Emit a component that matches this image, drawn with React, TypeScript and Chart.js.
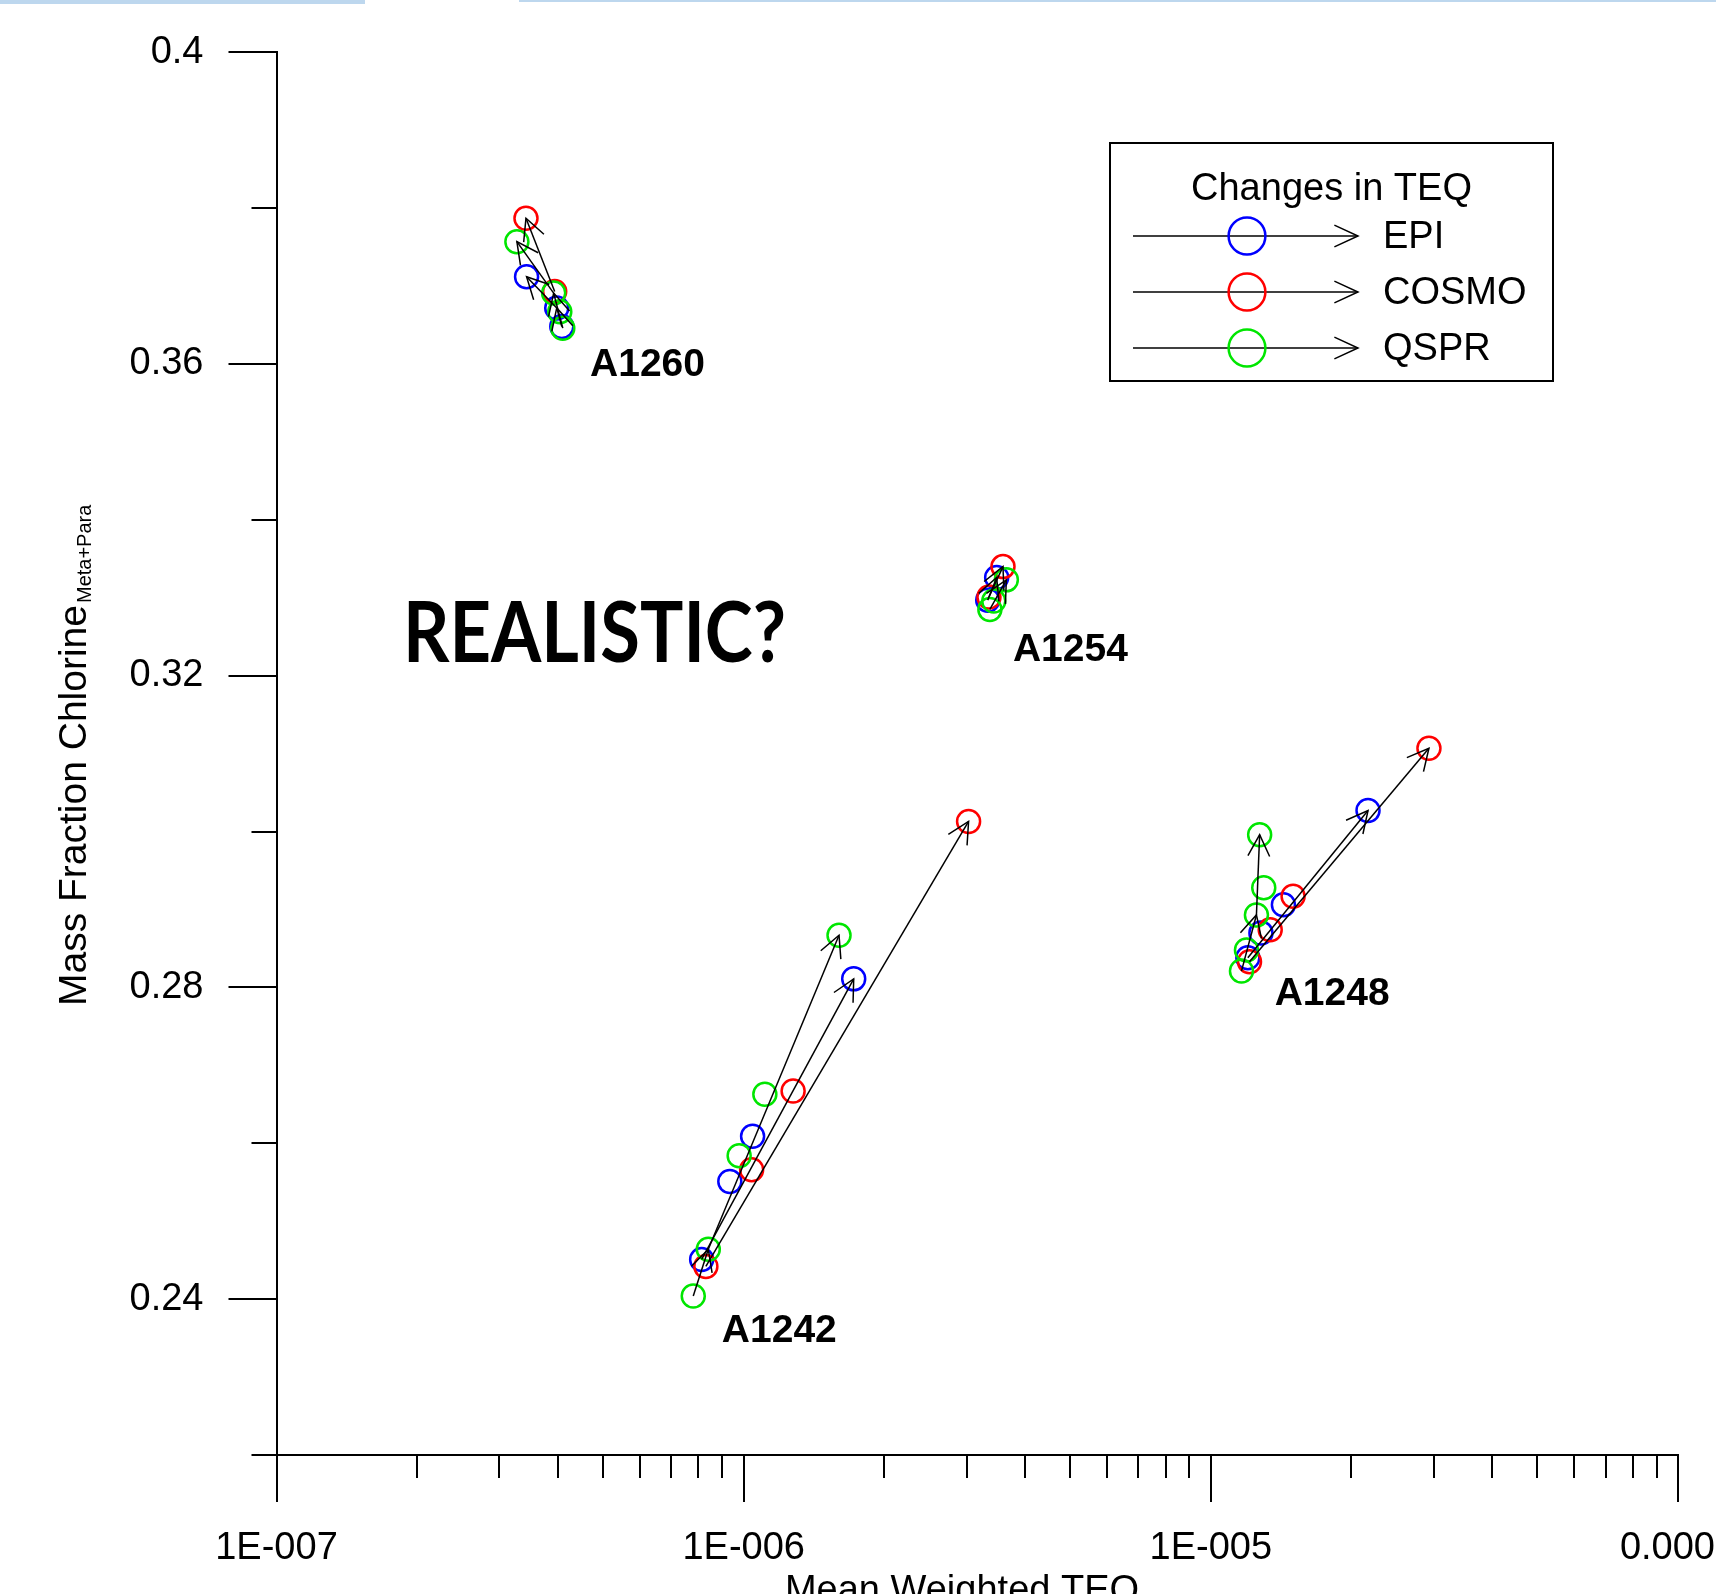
import React, { useEffect, useRef } from 'react';
import { Chart, registerables } from 'chart.js';

Chart.register(...registerables);

const FONT = "'Liberation Sans', Arial, sans-serif";

// ---------- series ----------
const SERIES_NAMES = ['EPI', 'COSMO', 'QSPR'];
const SERIES_COLORS = ['#0000FF', '#FF0000', '#00E600'];

// EPI (blue)
const EPI_X = [4.08e-7, 3.98e-7, 3.43e-7, 3.33e-6, 3.48e-6, 1.2e-5, 1.28e-5, 1.43e-5, 2.17e-5, 8.13e-7, 9.34e-7, 1.045e-6, 1.72e-6];
const EPI_Y = [0.3648, 0.3672, 0.3712, 0.3297, 0.3326, 0.2838, 0.287, 0.2906, 0.3027, 0.2451, 0.2551, 0.2609, 0.2811];
const EPI_ARROWS = [[0, 1], [1, 2], [3, 4], [5, 8], [9, 12]];

// COSMO (red)
const COSMO_X = [3.94e-7, 3.42e-7, 3.35e-6, 3.59e-6, 1.21e-5, 1.34e-5, 1.5e-5, 2.93e-5, 8.3e-7, 1.04e-6, 1.276e-6, 3.03e-6];
const COSMO_Y = [0.3693, 0.3787, 0.3301, 0.334, 0.2833, 0.2874, 0.2917, 0.3107, 0.2442, 0.2566, 0.2667, 0.3013];
const COSMO_ARROWS = [[0, 1], [2, 3], [4, 7], [8, 11]];

// QSPR (green)
const QSPR_X = [4.1e-7, 4.04e-7, 3.92e-7, 3.27e-7, 3.365e-6, 3.43e-6, 3.65e-6, 1.163e-5, 1.192e-5, 1.252e-5, 1.298e-5, 1.272e-5, 7.8e-7, 8.4e-7, 9.78e-7, 1.11e-6, 1.6e-6];
const QSPR_Y = [0.3646, 0.3667, 0.3691, 0.3757, 0.3285, 0.3296, 0.3323, 0.2821, 0.2848, 0.2893, 0.2928, 0.2996, 0.2404, 0.2464, 0.2584, 0.2663, 0.2867];
const QSPR_ARROWS = [[0, 2], [2, 3], [4, 6], [7, 9], [9, 11], [12, 13], [13, 16]];

// ---------- annotations ----------
const GROUP_LABELS = ['A1260', 'A1254', 'A1248', 'A1242'];
const GROUP_LABEL_X = [4.69e-7, 3.77e-6, 1.37e-5, 8.98e-7];
const GROUP_LABEL_Y = [0.3602, 0.3237, 0.2796, 0.2363];
const NOTE_TEXT = 'REALISTIC?';
const NOTE_X = 1.865e-7;
const NOTE_Y = 0.3256;

// ---------- axes ----------
const X_MIN = 1e-7;
const X_MAX = 1e-4;
const Y_MIN = 0.22;
const Y_MAX = 0.4;
const X_MAJOR_TICKS = [1e-7, 1e-6, 1e-5, 1e-4];
const X_MAJOR_LABELS = ['1E-007', '1E-006', '1E-005', '0.0001'];
const X_MINOR_TICKS = [
  2e-7, 3e-7, 4e-7, 5e-7, 6e-7, 7e-7, 8e-7, 9e-7,
  2e-6, 3e-6, 4e-6, 5e-6, 6e-6, 7e-6, 8e-6, 9e-6,
  2e-5, 3e-5, 4e-5, 5e-5, 6e-5, 7e-5, 8e-5, 9e-5,
];
const Y_MAJOR_TICKS = [0.24, 0.28, 0.32, 0.36, 0.4];
const Y_MAJOR_LABELS = ['0.24', '0.28', '0.32', '0.36', '0.4'];
const Y_MINOR_TICKS = [0.22, 0.26, 0.3, 0.34, 0.38];

const X_TITLE = 'Mean Weighted TEQ';
const Y_TITLE = 'Mass Fraction Chlorine';
const Y_TITLE_SUB = 'Meta+Para';
const LEGEND_TITLE = 'Changes in TEQ';

const SERIES = [
  { xs: EPI_X, ys: EPI_Y, arrows: EPI_ARROWS },
  { xs: COSMO_X, ys: COSMO_Y, arrows: COSMO_ARROWS },
  { xs: QSPR_X, ys: QSPR_Y, arrows: QSPR_ARROWS },
];

function drawArrow(ctx: CanvasRenderingContext2D, x1: number, y1: number, x2: number, y2: number, len: number, ang: number) {
  ctx.beginPath();
  ctx.moveTo(x1, y1);
  ctx.lineTo(x2, y2);
  ctx.stroke();
  const a = Math.atan2(y2 - y1, x2 - x1);
  ctx.beginPath();
  ctx.moveTo(x2 - len * Math.cos(a - ang), y2 - len * Math.sin(a - ang));
  ctx.lineTo(x2, y2);
  ctx.lineTo(x2 - len * Math.cos(a + ang), y2 - len * Math.sin(a + ang));
  ctx.stroke();
}

const arrowsPlugin = {
  id: 'arrows',
  afterDatasetsDraw(chart: any) {
    const { ctx, scales } = chart;
    ctx.save();
    ctx.strokeStyle = '#000';
    ctx.lineWidth = 1.5;
    SERIES.forEach((s) => {
      s.arrows.forEach(([a, b]) => {
        const x1 = scales.x.getPixelForValue(s.xs[a]);
        const y1 = scales.y.getPixelForValue(s.ys[a]);
        const x2 = scales.x.getPixelForValue(s.xs[b]);
        const y2 = scales.y.getPixelForValue(s.ys[b]);
        drawArrow(ctx, x1, y1, x2, y2, 24, 0.47);
      });
    });
    ctx.restore();
  },
};

const extrasPlugin = {
  id: 'extras',
  afterDraw(chart: any) {
    const { ctx, chartArea, scales } = chart;
    const xs = scales.x;
    const ys = scales.y;
    ctx.save();
    // tick marks
    ctx.strokeStyle = '#000';
    ctx.lineWidth = 2;
    ctx.beginPath();
    X_MAJOR_TICKS.forEach((v) => {
      const p = Math.round(xs.getPixelForValue(v));
      ctx.moveTo(p, chartArea.bottom);
      ctx.lineTo(p, chartArea.bottom + 47);
    });
    X_MINOR_TICKS.forEach((v) => {
      const p = Math.round(xs.getPixelForValue(v));
      ctx.moveTo(p, chartArea.bottom);
      ctx.lineTo(p, chartArea.bottom + 23);
    });
    Y_MAJOR_TICKS.forEach((v) => {
      const p = Math.round(ys.getPixelForValue(v));
      ctx.moveTo(chartArea.left - 48, p);
      ctx.lineTo(chartArea.left, p);
    });
    Y_MINOR_TICKS.forEach((v) => {
      const p = Math.round(ys.getPixelForValue(v));
      ctx.moveTo(chartArea.left - 25, p);
      ctx.lineTo(chartArea.left, p);
    });
    ctx.stroke();

    // x title
    ctx.fillStyle = '#000';
    ctx.font = `38px ${FONT}`;
    ctx.textAlign = 'center';
    ctx.textBaseline = 'alphabetic';
    ctx.fillText(X_TITLE, 962, 1602);

    // y title with subscript
    ctx.save();
    ctx.translate(86, 1006);
    ctx.rotate(-Math.PI / 2);
    ctx.textAlign = 'left';
    ctx.font = `39px ${FONT}`;
    ctx.fillText(Y_TITLE, 0, 0);
    const w = ctx.measureText(Y_TITLE).width;
    ctx.font = `20px ${FONT}`;
    ctx.fillText(Y_TITLE_SUB, w + 2, 5);
    ctx.restore();

    // group labels
    ctx.font = `bold 39px ${FONT}`;
    ctx.textAlign = 'left';
    ctx.textBaseline = 'alphabetic';
    GROUP_LABELS.forEach((t, i) => {
      const px = xs.getPixelForValue(GROUP_LABEL_X[i]);
      const py = ys.getPixelForValue(GROUP_LABEL_Y[i]);
      ctx.fillText(t, px, py + 14);
    });

    // note
    ctx.save();
    ctx.font = `bold 84px Lato, 'Open Sans', ${FONT}`;
    const nw = ctx.measureText(NOTE_TEXT).width;
    const nx = xs.getPixelForValue(NOTE_X);
    const ny = ys.getPixelForValue(NOTE_Y);
    ctx.translate(nx, ny + 30);
    ctx.scale(383 / nw, 1);
    ctx.fillText(NOTE_TEXT, 0, 0);
    ctx.restore();

    // legend
    ctx.lineWidth = 2;
    ctx.strokeStyle = '#000';
    ctx.strokeRect(1110, 143, 443, 238);
    ctx.font = `38px ${FONT}`;
    ctx.textAlign = 'center';
    ctx.fillText(LEGEND_TITLE, 1331.5, 200);
    ctx.textAlign = 'left';
    SERIES_NAMES.forEach((name, i) => {
      const ry = 236 + i * 56;
      ctx.strokeStyle = '#000';
      ctx.lineWidth = 1.5;
      drawArrow(ctx, 1133, ry, 1358, ry, 26, 0.43);
      ctx.strokeStyle = SERIES_COLORS[i];
      ctx.lineWidth = 2.5;
      ctx.beginPath();
      ctx.arc(1247, ry, 18.4, 0, Math.PI * 2);
      ctx.stroke();
      ctx.fillStyle = '#000';
      ctx.fillText(name, 1383, ry + 12);
    });
    ctx.restore();
  },
};

export default function App() {
  const ref = useRef<HTMLCanvasElement>(null);
  useEffect(() => {
    const canvas = ref.current;
    if (!canvas) return;
    const datasets = SERIES.map((s, i) => ({
      label: SERIES_NAMES[i],
      data: s.xs.map((x, k) => ({ x, y: s.ys[k] })),
      borderColor: SERIES_COLORS[i],
      backgroundColor: 'rgba(0,0,0,0)',
      pointRadius: 11.5,
      pointBorderWidth: 2.5,
      pointHoverRadius: 11.5,
      showLine: false,
      order: 3 - i,
    }));
    const chart = new Chart(canvas, {
      type: 'scatter',
      data: { datasets },
      options: {
        responsive: false,
        animation: false,
        devicePixelRatio: 1,
        events: [],
        layout: { padding: { top: 52.3, right: 38, bottom: 0, left: 0 } },
        plugins: { legend: { display: false }, tooltip: { enabled: false } },
        scales: {
          x: {
            type: 'logarithmic',
            position: 'bottom',
            min: X_MIN,
            max: X_MAX,
            afterBuildTicks: (s: any) => {
              s.ticks = [...X_MAJOR_TICKS, ...X_MINOR_TICKS].sort((a, b) => a - b).map((v) => ({ value: v }));
            },
            ticks: {
              autoSkip: false,
              maxRotation: 0,
              minRotation: 0,
              padding: 24,
              color: '#000',
              font: { family: FONT, size: 38 },
              callback: (value: any) => {
                const v = Number(value);
                const k = X_MAJOR_TICKS.findIndex((m) => Math.abs(m - v) / m < 1e-6);
                return k >= 0 ? X_MAJOR_LABELS[k] : '';
              },
            },
            grid: { display: false, drawTicks: true, tickLength: 47 },
            border: { display: true, color: '#000', width: 2 },
            afterFit: (s: any) => {
              s.height = 139;
              s.paddingLeft = 0;
              s.paddingRight = 0;
            },
          },
          y: {
            type: 'linear',
            min: Y_MIN,
            max: Y_MAX,
            afterBuildTicks: (s: any) => {
              s.ticks = [...Y_MAJOR_TICKS, ...Y_MINOR_TICKS].sort((a, b) => a - b).map((v) => ({ value: v }));
            },
            ticks: {
              autoSkip: false,
              padding: 25,
              color: '#000',
              font: { family: FONT, size: 38 },
              callback: (value: any) => {
                const v = Number(value);
                const k = Y_MAJOR_TICKS.findIndex((m) => Math.abs(m - v) < 1e-6);
                return k >= 0 ? Y_MAJOR_LABELS[k] : '';
              },
            },
            grid: { display: false, drawTicks: true, tickLength: 48 },
            border: { display: true, color: '#000', width: 2 },
            afterFit: (s: any) => {
              s.width = 276.5;
              s.paddingTop = 0;
              s.paddingBottom = 0;
            },
          },
        },
      },
      plugins: [arrowsPlugin, extrasPlugin],
    } as any);
    return () => chart.destroy();
  }, []);
  return (
    <div style={{ position: 'absolute', left: 0, top: 0, width: 1716, height: 1594, background: '#fff', overflow: 'hidden' }}>
      <canvas ref={ref} width={1716} height={1594} style={{ display: 'block' }} />
      <div style={{ position: 'absolute', left: 0, top: 0, width: 365, height: 4, background: '#BDD7EE' }} />
      <div style={{ position: 'absolute', left: 519, top: 0, width: 1197, height: 2, background: '#BDD7EE' }} />
    </div>
  );
}
